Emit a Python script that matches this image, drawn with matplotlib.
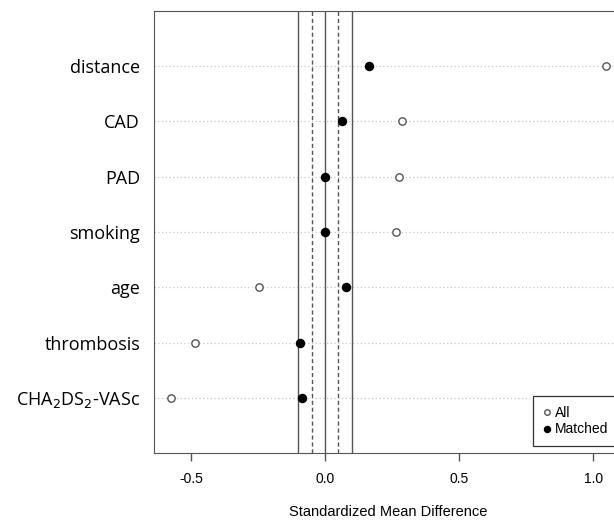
from matplotlib import pyplot as plt

# covariates, bottom to top
covariates = ['CHA$_2$DS$_2$-VASc', 'thrombosis', 'age', 'smoking', 'PAD', 'CAD', 'distance']
smd_all = [-0.575, -0.485, -0.246, 0.265, 0.276, 0.287, 1.049]
smd_matched = [-0.086, -0.093, 0.078, 0.0, 0.0, 0.063, 0.164]
x_ticks = [-0.5, 0.0, 0.5, 1.0]
x_tick_labels = ['-0.5', '0.0', '0.5', '1.0']

fig = plt.figure(figsize=(6.14, 5.23), dpi=100)
ax = fig.add_axes([0.2508, 0.1338, 0.7492, 0.8452])

positions = range(1, len(covariates) + 1)

# dotted guide line per row
for p in positions:
    ax.axhline(p, color='#c8c8c8', linestyle=(0, (1, 2)), linewidth=0.9, zorder=1)

# reference lines
for v in [-0.1, 0.0, 0.1]:
    ax.axvline(v, color='#555555', linewidth=1.0, zorder=2)
for v in [-0.05, 0.05]:
    ax.axvline(v, color='#555555', linewidth=1.0, linestyle=(0, (3, 2)), zorder=2)

ax.plot(smd_all, positions, 'o', mfc='white', mec='#555555', mew=1.0, ms=5.3,
        linestyle='none', label='All', zorder=3)
ax.plot(smd_matched, positions, 'o', color='black', ms=5.8,
        linestyle='none', label='Matched', zorder=3)

ax.set_xlim(-0.638, 1.078)
ax.set_ylim(0, 8.0)

ax.set_yticks(list(positions))
ax.set_yticklabels(covariates, fontsize=13, family='Open Sans')
ax.tick_params(axis='y', length=0, pad=10)

ax.set_xticks(x_ticks)
ax.set_xticklabels(x_tick_labels, fontsize=10, family='Liberation Sans')
ax.tick_params(axis='x', direction='out', length=6, width=1, color='#555555', pad=8)

ax.set_xlabel('Standardized Mean Difference', fontsize=10.5, family='Liberation Sans')
ax.xaxis.set_label_coords(0.509, -0.118)

for side in ['left', 'top', 'bottom']:
    ax.spines[side].set_color('#555555')
ax.spines['right'].set_visible(False)

leg = ax.legend(loc='upper left', bbox_to_anchor=(0.824, 0.129), borderaxespad=0,
                fancybox=False, edgecolor='#333333', framealpha=1, handletextpad=0.3,
                handlelength=0.6, borderpad=0.7, labelspacing=0.2, markerscale=0.75,
                prop={'family': 'Liberation Sans', 'size': 10})
leg.get_frame().set_linewidth(0.9)

plt.savefig('out.png', dpi=100)
